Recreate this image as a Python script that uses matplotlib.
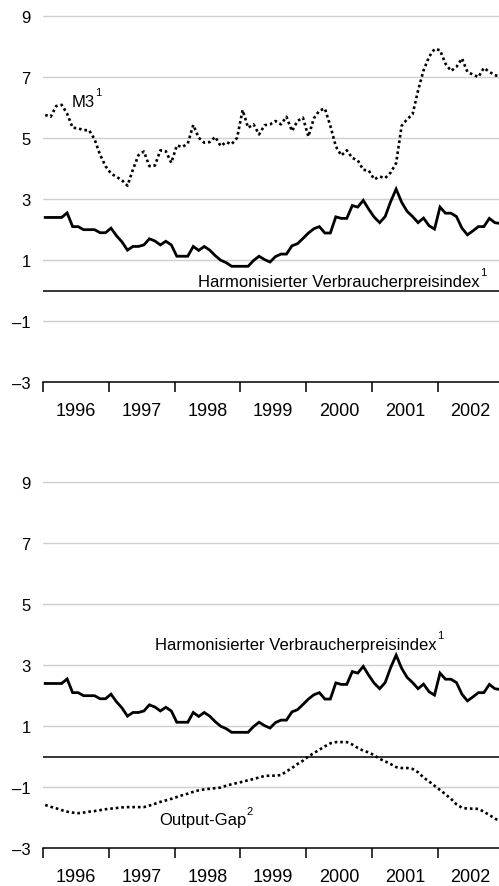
import numpy as np
import matplotlib
matplotlib.use('Agg')
import matplotlib.pyplot as plt


START_YEAR = 1996
YEARS = list(range(1996, 2003))

# Monatswerte Jan 1996 - Dez 2002, Veraenderung gegenueber Vorjahr in %
hicp = [2.4, 2.4, 2.4, 2.4, 2.55, 2.1, 2.1, 2.0, 2.0, 2.0, 1.9, 1.9,
        2.05, 1.8, 1.6, 1.33, 1.45, 1.45, 1.5, 1.7, 1.63, 1.5, 1.62, 1.5,
        1.13, 1.13, 1.13, 1.45, 1.32, 1.45, 1.33, 1.15, 1.0, 0.92, 0.8, 0.8,
        0.8, 0.8, 0.99, 1.13, 1.02, 0.94, 1.12, 1.2, 1.2, 1.47, 1.54, 1.71,
        1.89, 2.03, 2.1, 1.89, 1.89, 2.42, 2.37, 2.37, 2.79, 2.74, 2.96, 2.67,
        2.41, 2.23, 2.43, 2.92, 3.33, 2.9, 2.6, 2.43, 2.23, 2.38, 2.13, 2.02,
        2.74, 2.54, 2.54, 2.43, 2.05, 1.83, 1.96, 2.1, 2.1, 2.37, 2.23, 2.2]

m3 = [5.76, 5.7, 6.05, 6.09, 5.8, 5.34, 5.32, 5.26, 5.26, 4.96, 4.46, 4.08,
      3.84, 3.73, 3.62, 3.44, 3.97, 4.44, 4.56, 4.08, 4.1, 4.6, 4.57, 4.19,
      4.76, 4.71, 4.82, 5.43, 5.01, 4.85, 4.87, 5.04, 4.74, 4.87, 4.8, 5.01,
      5.92, 5.34, 5.45, 5.12, 5.42, 5.45, 5.56, 5.45, 5.7, 5.23, 5.56, 5.67,
      5.05, 5.65, 5.9, 5.97, 5.4, 4.73, 4.43, 4.6, 4.35, 4.27, 3.96, 3.94,
      3.65, 3.74, 3.69, 3.87, 4.18, 5.4, 5.62, 5.78, 6.56, 7.22, 7.66, 7.92,
      7.88, 7.44, 7.2, 7.33, 7.61, 7.17, 7.08, 7.0, 7.3, 7.17, 7.06, 7.02]

output_gap = [-1.58, -1.64, -1.69, -1.75, -1.8, -1.83, -1.85, -1.83, -1.8, -1.78, -1.75, -1.72,
              -1.7, -1.68, -1.66, -1.65, -1.65, -1.65, -1.65, -1.6, -1.54, -1.48, -1.43, -1.38,
              -1.32, -1.26, -1.21, -1.15, -1.1, -1.07, -1.05, -1.03, -1.01, -0.95, -0.9, -0.86,
              -0.82, -0.77, -0.73, -0.68, -0.63, -0.62, -0.62, -0.6, -0.48, -0.37, -0.24, -0.13,
              0.01, 0.12, 0.23, 0.34, 0.44, 0.48, 0.48, 0.48, 0.4, 0.29, 0.2, 0.14,
              0.05, -0.07, -0.15, -0.24, -0.34, -0.37, -0.37, -0.4, -0.51, -0.68, -0.81, -0.95,
              -1.09, -1.23, -1.38, -1.56, -1.67, -1.7, -1.7, -1.71, -1.8, -1.91, -2.02, -2.13]

y_ticks = [-3, -1, 1, 3, 5, 7, 9]
y_tick_labels = ['\u20133', '\u20131', '1', '3', '5', '7', '9']

plt.rcParams['font.family'] = ['Liberation Sans', 'DejaVu Sans']

months = START_YEAR + (np.arange(len(hicp)) + 0.4) / 12.0


def style_axes(ax):
    ax.set_xlim(1996, 2002.93)
    ax.set_ylim(-3, 9.2)
    for y in y_ticks[1:]:
        ax.axhline(y, color='#cfcfcf', lw=1.0, zorder=1)
    ax.axhline(0, color='black', lw=1.1, zorder=2)
    for s in ['top', 'right', 'left']:
        ax.spines[s].set_visible(False)
    ax.spines['bottom'].set_linewidth(1.1)
    ax.set_yticks(y_ticks)
    ax.set_yticklabels(y_tick_labels, fontsize=12)
    ax.tick_params(axis='y', length=0, pad=9)
    ax.set_xticks(YEARS)
    ax.set_xticklabels([])
    ax.tick_params(axis='x', which='major', length=7, width=1.1, direction='out')
    ax.set_xticks([y + 0.5 for y in YEARS], minor=True)
    ax.set_xticklabels([str(y) for y in YEARS], minor=True, fontsize=13)
    ax.tick_params(axis='x', which='minor', length=0, pad=14)


def label(ax, x, y, text, sup, ha='left'):
    # Beschriftung mit kleiner hochgestellter Fussnotenziffer
    t = ax.text(x, y, text, fontsize=12, ha=ha, va='baseline')
    renderer = fig.canvas.get_renderer()
    bb = t.get_window_extent(renderer)
    base_y = ax.transData.transform((x, y))[1]
    ax.annotate(sup, xy=(bb.x1, base_y), xycoords='figure pixels',
                xytext=(0.3, 7.6), textcoords='offset points',
                fontsize=8, ha='left', va='baseline')


fig = plt.figure(figsize=(4.99, 8.87), dpi=100)
ax_top = fig.add_axes([0.0862, 0.5679, 0.9138, 0.4198])
ax_bot = fig.add_axes([0.0862, 0.0425, 0.9138, 0.4198])

dotted = (0, (1, 1.1))

# oberes Bild: M3 und HVPI
style_axes(ax_top)
ax_top.plot(months, m3, color='black', lw=1.9, ls=dotted, zorder=3)
ax_top.plot(months, hicp, color='black', lw=2.0, zorder=4, solid_joinstyle='miter')

# unteres Bild: Output-Gap und HVPI
style_axes(ax_bot)
ax_bot.plot(months, output_gap, color='black', lw=1.9, ls=dotted, zorder=3)
ax_bot.plot(months, hicp, color='black', lw=2.0, zorder=4, solid_joinstyle='miter')

label(ax_top, 1996.44, 6.05, 'M3', '1')
label(ax_top, 2002.64, 0.17, 'Harmonisierter Verbraucherpreisindex', '1', ha='right')
label(ax_bot, 2001.98, 3.54, 'Harmonisierter Verbraucherpreisindex', '1', ha='right')
label(ax_bot, 1997.76, -2.21, 'Output-Gap', '2')

fig.savefig('out.png', dpi=100)
plt.close(fig)
